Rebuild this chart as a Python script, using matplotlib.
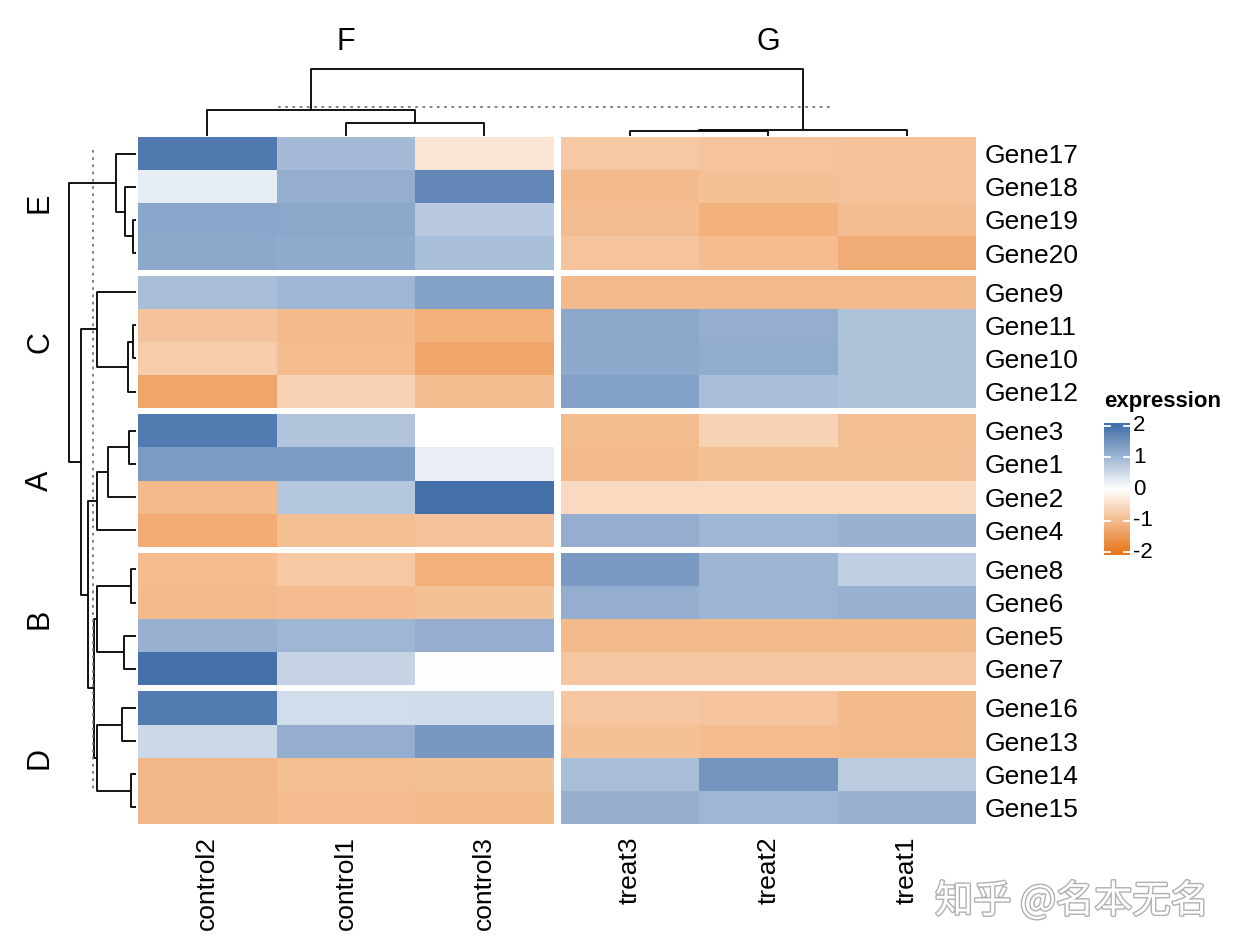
import numpy as np
import matplotlib
matplotlib.use('Agg')
import matplotlib.pyplot as plt
from matplotlib.colors import LinearSegmentedColormap
import matplotlib.patheffects as pe

# ---------------- data ----------------
genes = ['Gene17', 'Gene18', 'Gene19', 'Gene20',
         'Gene9', 'Gene11', 'Gene10', 'Gene12',
         'Gene3', 'Gene1', 'Gene2', 'Gene4',
         'Gene8', 'Gene6', 'Gene5', 'Gene7',
         'Gene16', 'Gene13', 'Gene14', 'Gene15']
row_groups = ['E', 'C', 'A', 'B', 'D']
rows_per_group = [4, 4, 4, 4, 4]
samples = ['control2', 'control1', 'control3', 'treat3', 'treat2', 'treat1']
col_groups = ['F', 'G']
cols_per_group = [3, 3]

expression = np.array([
    [1.88, 0.97, -0.37, -0.81, -0.87, -0.91],   # Gene17
    [0.25, 1.14, 1.67, -1.01, -0.93, -0.91],    # Gene18
    [1.25, 1.24, 0.76, -0.97, -1.15, -0.97],    # Gene19
    [1.22, 1.18, 0.92, -0.87, -1.00, -1.22],    # Gene20
    [0.91, 1.02, 1.32, -1.03, -1.03, -1.03],    # Gene9
    [-0.89, -1.03, -1.17, 1.24, 1.14, 0.86],    # Gene11
    [-0.75, -1.00, -1.31, 1.21, 1.16, 0.86],    # Gene10
    [-1.31, -0.67, -0.98, 1.32, 0.92, 0.86],    # Gene12
    [1.86, 0.83, 0.00, -0.98, -0.67, -0.96],    # Gene3
    [1.41, 1.39, 0.24, -1.03, -0.93, -0.93],    # Gene1
    [-1.03, 0.79, 2.20, -0.55, -0.55, -0.55],   # Gene2
    [-1.25, -0.96, -0.89, 1.14, 1.02, 1.10],    # Gene4
    [-1.00, -0.82, -1.17, 1.42, 1.05, 0.67],    # Gene8
    [-1.03, -0.99, -0.93, 1.14, 1.05, 1.10],    # Gene6
    [1.10, 1.02, 1.14, -1.02, -1.02, -1.02],    # Gene5
    [2.20, 0.62, 0.02, -0.85, -0.85, -0.85],    # Gene7
    [1.85, 0.48, 0.51, -0.85, -0.87, -1.03],    # Gene16
    [0.55, 1.14, 1.45, -0.93, -1.00, -1.03],    # Gene13
    [-1.07, -0.96, -0.93, 0.92, 1.49, 0.72],    # Gene14
    [-1.07, -0.99, -1.03, 1.12, 1.02, 1.08],    # Gene15
])

# dendrograms: [left, right, height]; leaves are display indices
row_tree_E = [0, [1, [2, 3, 3], 11], 20]
row_tree_C = [4, [[5, 6, 3], 7, 8], 39]
row_tree_A = [[[8, 9, 7], 10, 28], 11, 39]
row_tree_B = [[12, 13, 5], [14, 15, 12], 39]
row_tree_D = [[16, 17, 14], [18, 19, 5], 39]
row_tree = [row_tree_E, [row_tree_C, [row_tree_A, [row_tree_B, row_tree_D, 42], 48], 55], 67]
col_tree = [[0, [1, 2, 13], 26], [[3, 4, 5.5], 5, 6.5], 67]
row_cut = 43
col_cut = 29

legend_breaks = [-2, -1, 0, 1, 2]
legend_title = 'expression'
color_low, color_mid, color_high = '#E8781E', '#FFFFFF', '#4471AA'
watermark = '知乎 @名本无名'

cmap = LinearSegmentedColormap.from_list('expr', [color_low, color_mid, color_high], N=512)

# ---------------- layout ----------------
plt.rcParams['font.family'] = ['Liberation Sans', 'DejaVu Sans']
W, H = 1240, 950
fig = plt.figure(figsize=(W / 100, H / 100), dpi=100)


def fax(x0, y0, x1, y1):
    return fig.add_axes([x0 / W, 1 - y1 / H, (x1 - x0) / W, (y1 - y0) / H])


hm_left, hm_top = 138, 137
col_w, col_gap = 138.5, 7
row_h, row_gap = 33.15, 6

row_block = []
y = hm_top
for n in rows_per_group:
    row_block.append((y, y + n * row_h))
    y += n * row_h + row_gap
col_block = []
x = hm_left
for n in cols_per_group:
    col_block.append((x, x + n * col_w))
    x += n * col_w + col_gap

row_centers = []
for (y0, y1), n in zip(row_block, rows_per_group):
    row_centers += [y0 + (i + 0.5) * row_h for i in range(n)]
col_centers = []
for (x0, x1), n in zip(col_block, cols_per_group):
    col_centers += [x0 + (i + 0.5) * col_w for i in range(n)]

# heatmap blocks
r0 = 0
for (y0, y1), nr in zip(row_block, rows_per_group):
    c0 = 0
    for (x0, x1), nc in zip(col_block, cols_per_group):
        ax = fax(x0, y0, x1, y1)
        sub = expression[r0:r0 + nr, c0:c0 + nc]
        ax.pcolormesh(np.arange(nc + 1), np.arange(nr + 1), sub, cmap=cmap,
                      vmin=-2, vmax=2, shading='flat', edgecolors='none', antialiased=False)
        ax.set_xlim(0, nc)
        ax.set_ylim(nr, 0)
        ax.axis('off')
        c0 += nc
    r0 += nr

# labels
for g, yc in zip(genes, row_centers):
    fig.text(985 / W, 1 - yc / H, g, ha='left', va='center_baseline', fontsize=19)
for s, xc in zip(samples, col_centers):
    fig.text(xc / W, 1 - 836 / H, s, ha='center', va='top', rotation=90, fontsize=19)
for g, (x0, x1) in zip(col_groups, col_block):
    fig.text((x0 + x1) / 2 / W, 1 - 42 / H, g, ha='center', va='center', fontsize=22)
for g, (y0, y1) in zip(row_groups, row_block):
    fig.text(40 / W, 1 - (y0 + y1) / 2 / H, g, ha='center', va='center', rotation=90, fontsize=22)


# dendrograms
def tree_segments(node, leafpos, segs):
    if isinstance(node, int):
        return leafpos[node], 0.0
    left, right, h = node
    pl, hl = tree_segments(left, leafpos, segs)
    pr, hr = tree_segments(right, leafpos, segs)
    segs.append(([pl, pl, pr, pr], [hl, h, h, hr]))
    return (pl + pr) / 2, h


lw = 1.3
rax = fax(69, hm_top, 136, row_block[-1][1])
rax.set_xlim(67, 0)
rax.set_ylim(row_block[-1][1], hm_top)
rax.axis('off')
segs = []
tree_segments(row_tree, row_centers, segs)
for p, h in segs:
    rax.plot(h, p, color='black', lw=lw, clip_on=False, solid_capstyle='butt')
rax.plot([row_cut, row_cut], [150, 790], color='#777777', lw=1.3, ls=(0, (1.5, 2.5)), clip_on=False)

cax_d = fax(hm_left, 69, col_block[-1][1], 136)
cax_d.set_xlim(hm_left, col_block[-1][1])
cax_d.set_ylim(0, 67)
cax_d.axis('off')
segs = []
tree_segments(col_tree, col_centers, segs)
for p, h in segs:
    cax_d.plot(p, h, color='black', lw=lw, clip_on=False, solid_capstyle='butt')
cax_d.plot([278, 833], [col_cut, col_cut], color='#777777', lw=1.3, ls=(0, (1.5, 2.5)), clip_on=False)

# legend
fig.text(1104 / W, 1 - 401 / H, legend_title, ha='left', va='center', fontsize=16, fontweight='bold')
lax = fax(1104, 423, 1130, 555)
ext = 2.08
grad = np.linspace(-ext, ext, 300).reshape(-1, 1)
lax.imshow(grad, cmap=cmap, vmin=-2, vmax=2, aspect='auto', origin='lower',
           extent=[0, 1, -ext, ext], interpolation='bilinear')
lax.set_xlim(0, 1)
lax.set_ylim(-ext, ext)
lax.axis('off')
for v in legend_breaks:
    lax.plot([0, 0.22], [v, v], color='white', lw=1.3)
    lax.plot([0.78, 1], [v, v], color='white', lw=1.3)
    lax.text(1.12, v, str(v), ha='left', va='center', fontsize=16, clip_on=False)

# watermark
fig.text(935 / W, 1 - 902 / H, watermark, ha='left', va='center', fontsize=27.5,
         family=['Noto Sans CJK SC', 'DejaVu Sans'], color='white',
         path_effects=[pe.withStroke(linewidth=2.0, foreground='#b0b0b0')])

fig.savefig('out.png', dpi=100, facecolor='white')
